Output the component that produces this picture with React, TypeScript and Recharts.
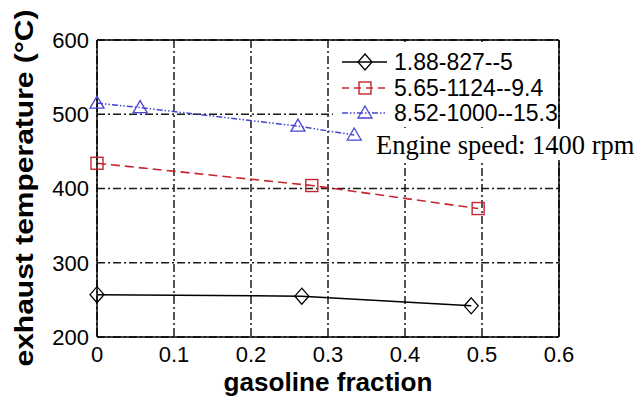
import { LineChart, Line, XAxis, YAxis, CartesianGrid, ReferenceLine } from "recharts";

// gasoline fraction vs exhaust temperature (°C)
const series1 = [
  { x: 0, y: 257 },
  { x: 0.266, y: 255 },
  { x: 0.486, y: 242 },
];
const series2 = [
  { x: 0, y: 434 },
  { x: 0.279, y: 404 },
  { x: 0.495, y: 373 },
];
const series3 = [
  { x: 0, y: 515 },
  { x: 0.056, y: 509 },
  { x: 0.261, y: 484 },
  { x: 0.334, y: 472 },
];
const seriesNames = ["1.88-827--5", "5.65-1124--9.4", "8.52-1000--15.3"];
const xTicks = [0, 0.1, 0.2, 0.3, 0.4, 0.5, 0.6];
const yTicks = [200, 300, 400, 500, 600];

const RED = "#c4262e";
const BLUE = "#4646d2";
const SANS = "'Liberation Sans', Arial, sans-serif";
const SERIF = "'Liberation Serif', 'Times New Roman', serif";

const Diamond = ({ cx, cy }: any) => {
  if (cx == null || cy == null) return null;
  return (
    <path
      d={`M${cx},${cy - 8} L${cx + 7},${cy} L${cx},${cy + 8} L${cx - 7},${cy} Z`}
      fill="none"
      stroke="#000"
      strokeWidth={1.3}
    />
  );
};

const Square = ({ cx, cy }: any) => {
  if (cx == null || cy == null) return null;
  return <rect x={cx - 6} y={cy - 6} width={12} height={12} fill="none" stroke={RED} strokeWidth={1.4} />;
};

const Triangle = ({ cx, cy }: any) => {
  if (cx == null || cy == null) return null;
  return (
    <path
      d={`M${cx},${cy - 7} L${cx + 7},${cy + 5} L${cx - 7},${cy + 5} Z`}
      fill="none"
      stroke={BLUE}
      strokeWidth={1.3}
    />
  );
};

const tickStyle = { fill: "#000", fontSize: 22, fontFamily: SANS };

export default function App() {
  return (
    <div style={{ position: "absolute", left: 0, top: 0, width: 636, height: 399, background: "#fff" }}>
      <LineChart width={636} height={399} margin={{ top: 40, right: 77, left: 37, bottom: 32 }}>
        <CartesianGrid stroke="#1a1a1a" strokeWidth={1.5} strokeDasharray="8 3 2 3" />
        <XAxis
          type="number"
          dataKey="x"
          domain={[0, 0.6]}
          ticks={xTicks}
          height={30}
          axisLine={{ stroke: "#000", strokeWidth: 1.5 }}
          tickLine={false}
          tick={tickStyle}
          tickMargin={3}
          allowDuplicatedCategory={false}
        />
        <YAxis
          type="number"
          domain={[200, 600]}
          ticks={yTicks}
          width={60}
          axisLine={{ stroke: "#000", strokeWidth: 1.5 }}
          tickLine={false}
          tick={tickStyle}
        />
        <ReferenceLine y={600} stroke="#000" strokeWidth={1.5} />
        <ReferenceLine x={0.6} stroke="#000" strokeWidth={1.5} />
        <Line
          data={series1}
          dataKey="y"
          stroke="#000"
          strokeWidth={1.5}
          dot={<Diamond />}
          isAnimationActive={false}
        />
        <Line
          data={series2}
          dataKey="y"
          stroke={RED}
          strokeWidth={1.6}
          strokeDasharray="9 5"
          dot={<Square />}
          isAnimationActive={false}
        />
        <Line
          data={series3}
          dataKey="y"
          stroke={BLUE}
          strokeWidth={1.5}
          strokeDasharray="6 2 1.5 2 1.5 2"
          dot={<Triangle />}
          isAnimationActive={false}
        />
      </LineChart>
      <svg
        width={636}
        height={399}
        style={{ position: "absolute", left: 0, top: 0, pointerEvents: "none" }}
      >
        {/* legend */}
        <rect x={333} y={42} width={225} height={85} fill="#fff" />
        <line x1={342} y1={62} x2={387} y2={62} stroke="#000" strokeWidth={1.5} />
        <Diamond cx={365} cy={62} />
        <line x1={342} y1={88} x2={387} y2={88} stroke={RED} strokeWidth={1.6} strokeDasharray="7 5" />
        <Square cx={365} cy={88} />
        <line x1={342} y1={113} x2={387} y2={113} stroke={BLUE} strokeWidth={1.5} strokeDasharray="6 2 1.5 2 1.5 2" />
        <Triangle cx={365} cy={113} />
        {seriesNames.map((n, i) => (
          <text key={n} x={394} y={[62, 88, 113][i] + 8} fontSize={23} fontFamily={SANS} fill="#000">
            {n}
          </text>
        ))}
        {/* annotation */}
        <rect x={372} y={129} width={264} height={31} fill="#fff" />
        <text x={376} y={154} fontSize={26.5} fontFamily={SERIF} fill="#000">
          Engine speed: 1400 rpm
        </text>
        {/* axis titles */}
        <text
          x={328}
          y={391}
          textAnchor="middle"
          fontSize={25}
          fontWeight="bold"
          fontFamily={SANS}
          textLength={209}
          lengthAdjust="spacingAndGlyphs"
        >
          gasoline fraction
        </text>
        <text
          transform="translate(33,188) rotate(-90)"
          textAnchor="middle"
          fontSize={25}
          fontWeight="bold"
          fontFamily={SANS}
          textLength={357}
          lengthAdjust="spacingAndGlyphs"
        >
          exhaust temperature (°C)
        </text>
      </svg>
    </div>
  );
}
